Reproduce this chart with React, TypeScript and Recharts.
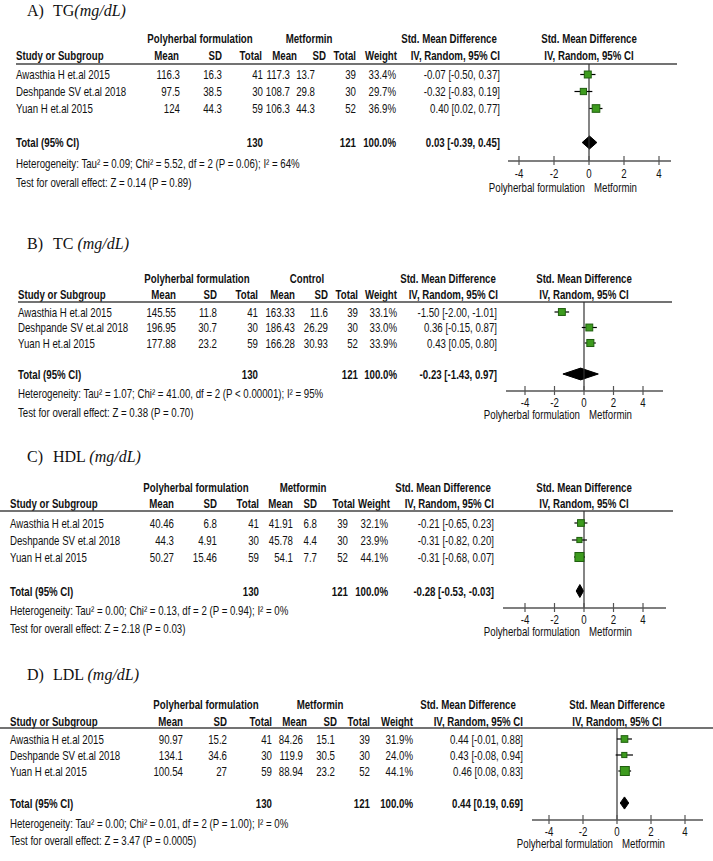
import React from 'react';
import { ComposedChart, Scatter, Area, XAxis, YAxis, ReferenceLine, ErrorBar, Customized } from 'recharts';

// ---------- DATA ----------
const studies = ['Awasthia H et.al 2015', 'Deshpande SV et.al 2018', 'Yuan H et.al 2015'];
const forestTicks = [-4, -2, 0, 2, 4];
const favLeft = 'Polyherbal formulation';
const favRight = 'Metformin';

// A) TG
const tgPolyMean = [116.3, 97.5, 124];
const tgPolySD = [16.3, 38.5, 44.3];
const tgPolyN = [41, 30, 59];
const tgCtrlMean = [117.3, 108.7, 106.3];
const tgCtrlSD = [13.7, 29.8, 44.3];
const tgCtrlN = [39, 30, 52];
const tgWeight = [33.4, 29.7, 36.9];
const tgSMD = [-0.07, -0.32, 0.4];
const tgLow = [-0.5, -0.83, 0.02];
const tgHigh = [0.37, 0.19, 0.77];
const tgPooled = [0.03, -0.39, 0.45];
const tgTotals = [130, 121];
const tgHet = 'Heterogeneity: Tau² = 0.09; Chi² = 5.52, df = 2 (P = 0.06); I² = 64%';
const tgTest = 'Test for overall effect: Z = 0.14 (P = 0.89)';

// B) TC
const tcPolyMean = [145.55, 196.95, 177.88];
const tcPolySD = [11.8, 30.7, 23.2];
const tcPolyN = [41, 30, 59];
const tcCtrlMean = [163.33, 186.43, 166.28];
const tcCtrlSD = [11.6, 26.29, 30.93];
const tcCtrlN = [39, 30, 52];
const tcWeight = [33.1, 33.0, 33.9];
const tcSMD = [-1.5, 0.36, 0.43];
const tcLow = [-2.0, -0.15, 0.05];
const tcHigh = [-1.01, 0.87, 0.8];
const tcPooled = [-0.23, -1.43, 0.97];
const tcTotals = [130, 121];
const tcHet = 'Heterogeneity: Tau² = 1.07; Chi² = 41.00, df = 2 (P < 0.00001); I² = 95%';
const tcTest = 'Test for overall effect: Z = 0.38 (P = 0.70)';

// C) HDL
const hdlPolyMean = [40.46, 44.3, 50.27];
const hdlPolySD = [6.8, 4.91, 15.46];
const hdlPolyN = [41, 30, 59];
const hdlCtrlMean = [41.91, 45.78, 54.1];
const hdlCtrlSD = [6.8, 4.4, 7.7];
const hdlCtrlN = [39, 30, 52];
const hdlWeight = [32.1, 23.9, 44.1];
const hdlSMD = [-0.21, -0.31, -0.31];
const hdlLow = [-0.65, -0.82, -0.68];
const hdlHigh = [0.23, 0.2, 0.07];
const hdlPooled = [-0.28, -0.53, -0.03];
const hdlTotals = [130, 121];
const hdlHet = 'Heterogeneity: Tau² = 0.00; Chi² = 0.13, df = 2 (P = 0.94); I² = 0%';
const hdlTest = 'Test for overall effect: Z = 2.18 (P = 0.03)';

// D) LDL
const ldlPolyMean = [90.97, 134.1, 100.54];
const ldlPolySD = [15.2, 34.6, 27];
const ldlPolyN = [41, 30, 59];
const ldlCtrlMean = [84.26, 119.9, 88.94];
const ldlCtrlSD = [15.1, 30.5, 23.2];
const ldlCtrlN = [39, 30, 52];
const ldlWeight = [31.9, 24.0, 44.1];
const ldlSMD = [0.44, 0.43, 0.46];
const ldlLow = [-0.01, -0.08, 0.08];
const ldlHigh = [0.88, 0.94, 0.83];
const ldlPooled = [0.44, 0.19, 0.69];
const ldlTotals = [130, 121];
const ldlHet = 'Heterogeneity: Tau² = 0.00; Chi² = 0.01, df = 2 (P = 1.00); I² = 0%';
const ldlTest = 'Test for overall effect: Z = 3.47 (P = 0.0005)';

// ---------- STYLE / LAYOUT ----------
const W = 713;
const FONT = '"Liberation Sans", Arial, sans-serif';
const SERIF = '"Liberation Serif", "Times New Roman", serif';
const FS = 11.8;
const SX = 0.82; // narrow (Arial Narrow look)
const SY = 1.1;
const GREEN = '#3d9b1e';
const GREEN_DARK = '#1f5e0e';
const AXIS = '#555';

type Cfg = {
  top: number; height: number;
  letter: string; name: string; sep: string; titleY: number;
  ctrlLabel: string;
  h1Y: number; h2Y: number; lineY: number; lineX1: number; lineX2: number;
  leftX: number; r0: number; s: number; hetY: number; testY: number;
  hdr: number[]; dat: number[]; grp: number[];
  axisX1: number; axisX2: number; zeroX: number; unitPx: number; axisY: number; tickDy: number; favDy: number;
};

type Data = {
  polyMean: number[]; polySD: number[]; polyN: number[];
  ctrlMean: number[]; ctrlSD: number[]; ctrlN: number[];
  weight: number[]; smd: number[]; low: number[]; high: number[];
  pooled: number[]; totals: number[]; het: string; test: string;
};

const cfgA: Cfg = {
  top: 0, height: 205, letter: 'A)', name: 'TG', sep: '', titleY: 10, ctrlLabel: 'Metformin',
  h1Y: 38, h2Y: 55, lineY: 64, lineX1: 16, lineX2: 677, leftX: 16, r0: 74.5, s: 17, hetY: 163, testY: 182,
  hdr: [179, 222, 262, 297, 326, 356, 397, 500], dat: [180, 222, 263, 290, 315, 356, 396, 500],
  grp: [200, 309, 449],
  axisX1: 508, axisX2: 671, zeroX: 589, unitPx: 17.5, axisY: 161, tickDy: 12, favDy: 26,
};
const cfgB: Cfg = {
  top: 205, height: 220, letter: 'B)', name: 'TC', sep: ' ', titleY: 243, ctrlLabel: 'Control',
  h1Y: 278, h2Y: 294, lineY: 302, lineX1: 18, lineX2: 672, leftX: 18, r0: 312, s: 15.5, hetY: 393, testY: 412,
  hdr: [176, 217, 258, 295, 328, 358, 397, 498], dat: [176, 217, 258, 295, 328, 358, 397, 497],
  grp: [197, 307, 448],
  axisX1: 506, axisX2: 663, zeroX: 584, unitPx: 14.75, axisY: 391, tickDy: 11, favDy: 23,
};
const cfgC: Cfg = {
  top: 425, height: 215, letter: 'C)', name: 'HDL', sep: ' ', titleY: 456, ctrlLabel: 'Metformin',
  h1Y: 487, h2Y: 503, lineY: 511, lineX1: 0, lineX2: 673, leftX: 10, r0: 523, s: 17, hetY: 610, testY: 628,
  hdr: [174, 217, 259, 293, 317, 355, 390, 494], dat: [174, 217, 259, 293, 317, 348, 388, 494],
  grp: [196, 303, 443],
  axisX1: 503, axisX2: 666, zeroX: 584, unitPx: 14.75, axisY: 608, tickDy: 11, favDy: 23,
};
const cfgD: Cfg = {
  top: 640, height: 221, letter: 'D)', name: 'LDL', sep: ' ', titleY: 674, ctrlLabel: 'Metformin',
  h1Y: 704, h2Y: 721, lineY: 728, lineX1: 0, lineX2: 713, leftX: 10, r0: 739, s: 16, hetY: 823, testY: 840,
  hdr: [183, 227, 272, 307, 337, 370, 413, 523], dat: [183, 227, 272, 303, 335, 370, 413, 523],
  grp: [206, 320, 468],
  axisX1: 532, axisX2: 703, zeroX: 617, unitPx: 17, axisY: 820, tickDy: 11, favDy: 23,
};

const dataA: Data = { polyMean: tgPolyMean, polySD: tgPolySD, polyN: tgPolyN, ctrlMean: tgCtrlMean, ctrlSD: tgCtrlSD, ctrlN: tgCtrlN, weight: tgWeight, smd: tgSMD, low: tgLow, high: tgHigh, pooled: tgPooled, totals: tgTotals, het: tgHet, test: tgTest };
const dataB: Data = { polyMean: tcPolyMean, polySD: tcPolySD, polyN: tcPolyN, ctrlMean: tcCtrlMean, ctrlSD: tcCtrlSD, ctrlN: tcCtrlN, weight: tcWeight, smd: tcSMD, low: tcLow, high: tcHigh, pooled: tcPooled, totals: tcTotals, het: tcHet, test: tcTest };
const dataC: Data = { polyMean: hdlPolyMean, polySD: hdlPolySD, polyN: hdlPolyN, ctrlMean: hdlCtrlMean, ctrlSD: hdlCtrlSD, ctrlN: hdlCtrlN, weight: hdlWeight, smd: hdlSMD, low: hdlLow, high: hdlHigh, pooled: hdlPooled, totals: hdlTotals, het: hdlHet, test: hdlTest };
const dataD: Data = { polyMean: ldlPolyMean, polySD: ldlPolySD, polyN: ldlPolyN, ctrlMean: ldlCtrlMean, ctrlSD: ldlCtrlSD, ctrlN: ldlCtrlN, weight: ldlWeight, smd: ldlSMD, low: ldlLow, high: ldlHigh, pooled: ldlPooled, totals: ldlTotals, het: ldlHet, test: ldlTest };

const ci = (e: number, l: number, h: number) => `${e.toFixed(2)} [${l.toFixed(2)}, ${h.toFixed(2)}]`;

const T = (p: { x: number; y: number; anchor?: 'start' | 'middle' | 'end'; bold?: boolean; size?: number; children: React.ReactNode }) => (
  <text transform={`translate(${p.x} ${p.y}) scale(${SX} ${SY})`} x={0} y={0} textAnchor={p.anchor || 'start'}
    dominantBaseline="central" fontFamily={FONT}
    fontSize={p.size || FS} fontWeight={p.bold ? 700 : 400} fill="#111">{p.children}</text>
);

const PanelText = ({ c, d }: { c: Cfg; d: Data }) => {
  const rowY = (i: number) => c.r0 + i * c.s;
  const totY = c.r0 + 4 * c.s;
  return (
    <g transform={`translate(0, ${-c.top})`}>
      <text x={27} y={c.titleY} dominantBaseline="central" fontFamily={SERIF} fontSize={16} fill="#111">{c.letter}</text>
      <text x={53} y={c.titleY} dominantBaseline="central" fontFamily={SERIF} fontSize={16} fill="#111">
        {c.name + c.sep}<tspan fontStyle="italic">(mg/dL)</tspan>
      </text>
      <T x={c.grp[0]} y={c.h1Y} anchor="middle" bold>Polyherbal formulation</T>
      <T x={c.grp[1]} y={c.h1Y} anchor="middle" bold>{c.ctrlLabel}</T>
      <T x={c.grp[2]} y={c.h1Y} anchor="middle" bold>Std. Mean Difference</T>
      <T x={c.zeroX} y={c.h1Y} anchor="middle" bold>Std. Mean Difference</T>
      <T x={c.leftX} y={c.h2Y} bold>Study or Subgroup</T>
      {['Mean', 'SD', 'Total', 'Mean', 'SD', 'Total', 'Weight', 'IV, Random, 95% CI'].map((h, k) => (
        <T key={k} x={c.hdr[k]} y={c.h2Y} anchor="end" bold>{h}</T>
      ))}
      <T x={c.zeroX} y={c.h2Y} anchor="middle" bold>IV, Random, 95% CI</T>
      <line x1={c.lineX1} x2={c.lineX2} y1={c.lineY} y2={c.lineY} stroke="#444" strokeWidth={1.5} />
      {studies.map((s, i) => {
        const vals = [d.polyMean[i], d.polySD[i], d.polyN[i], d.ctrlMean[i], d.ctrlSD[i], d.ctrlN[i]].map(String);
        vals.push(d.weight[i].toFixed(1) + '%');
        vals.push(ci(d.smd[i], d.low[i], d.high[i]));
        return (
          <g key={i}>
            <T x={c.leftX} y={rowY(i)}>{s}</T>
            {vals.map((v, k) => <T key={k} x={c.dat[k]} y={rowY(i)} anchor="end">{v}</T>)}
          </g>
        );
      })}
      <T x={c.leftX} y={totY} bold>Total (95% CI)</T>
      <T x={c.dat[2]} y={totY} anchor="end" bold>{String(d.totals[0])}</T>
      <T x={c.dat[5]} y={totY} anchor="end" bold>{String(d.totals[1])}</T>
      <T x={c.dat[6]} y={totY} anchor="end" bold>100.0%</T>
      <T x={c.dat[7]} y={totY} anchor="end" bold>{ci(d.pooled[0], d.pooled[1], d.pooled[2])}</T>
      <T x={c.leftX} y={c.hetY}>{d.het}</T>
      <T x={c.leftX} y={c.testY}>{d.test}</T>
      <T x={c.zeroX - 4} y={c.axisY + c.favDy} anchor="end">{favLeft}</T>
      <T x={c.zeroX + 5} y={c.axisY + c.favDy}>{favRight}</T>
    </g>
  );
};

const Square = (props: any) => {
  const { cx, cy, payload } = props;
  if (cx == null || cy == null) return null;
  const sz = 0.19 * payload.w + 0.6;
  return <rect x={cx - sz / 2} y={cy - sz / 2} width={sz} height={sz} fill={GREEN} stroke={GREEN_DARK} strokeWidth={1} />;
};

const makeTick = (dy: number) => (props: any) => {
  const { x, y, payload } = props;
  return (
    <g>
      <line x1={x} x2={x} y1={y - 5} y2={y + 4} stroke={AXIS} strokeWidth={1.2} />
      <T x={x} y={y + dy} anchor="middle">{String(payload.value)}</T>
    </g>
  );
};

const Panel = ({ c, d }: { c: Cfg; d: Data }) => {
  const pts = studies.map((s, i) => ({
    name: s, x: d.smd[i], row: i + 1, w: d.weight[i], err: [d.smd[i] - d.low[i], d.high[i] - d.smd[i]],
  }));
  const dh = 0.38;
  const diamond = [
    { x: d.pooled[1], row: [5, 5] },
    { x: d.pooled[0], row: [5 - dh, 5 + dh] },
    { x: d.pooled[2], row: [5, 5] },
  ];
  const xDom = [(c.axisX1 - c.zeroX) / c.unitPx, (c.axisX2 - c.zeroX) / c.unitPx];
  const yDom = [1 - (c.r0 - c.lineY) / c.s, 1 + (c.axisY - c.r0) / c.s];
  const xAxisH = 30;
  const margin = {
    top: c.lineY - c.top,
    bottom: c.top + c.height - c.axisY - xAxisH,
    left: c.axisX1,
    right: W - c.axisX2,
  };
  const TickC = makeTick(c.tickDy);
  return (
    <div style={{ position: 'absolute', left: 0, top: c.top, width: W, height: c.height }}>
      <ComposedChart width={W} height={c.height} margin={margin}>
        <XAxis type="number" dataKey="x" domain={xDom} allowDataOverflow ticks={forestTicks} interval={0}
          height={xAxisH} tickSize={0} tickMargin={0} tick={<TickC />} axisLine={{ stroke: AXIS, strokeWidth: 1.5 }} />
        <YAxis type="number" dataKey="row" domain={yDom} allowDataOverflow reversed hide />
        <ReferenceLine x={0} stroke="#333" strokeWidth={1.2} />
        <Area data={diamond} dataKey="row" type="linear" fill="#000" fillOpacity={1} stroke="#000" strokeWidth={1}
          isAnimationActive={false} dot={false} activeDot={false} />
        <Scatter data={pts} shape={<Square />} isAnimationActive={false}>
          <ErrorBar dataKey="err" direction="x" width={0} stroke="#000" strokeWidth={1.2} />
        </Scatter>
        <Customized component={<PanelText c={c} d={d} />} />
      </ComposedChart>
    </div>
  );
}

export default function App() {
  return (
    <div style={{ position: 'absolute', left: 0, top: 0, width: W, height: 861, background: '#fff', overflow: 'hidden' }}>
      <Panel c={cfgA} d={dataA} />
      <Panel c={cfgB} d={dataB} />
      <Panel c={cfgC} d={dataC} />
      <Panel c={cfgD} d={dataD} />
    </div>
  );
}
